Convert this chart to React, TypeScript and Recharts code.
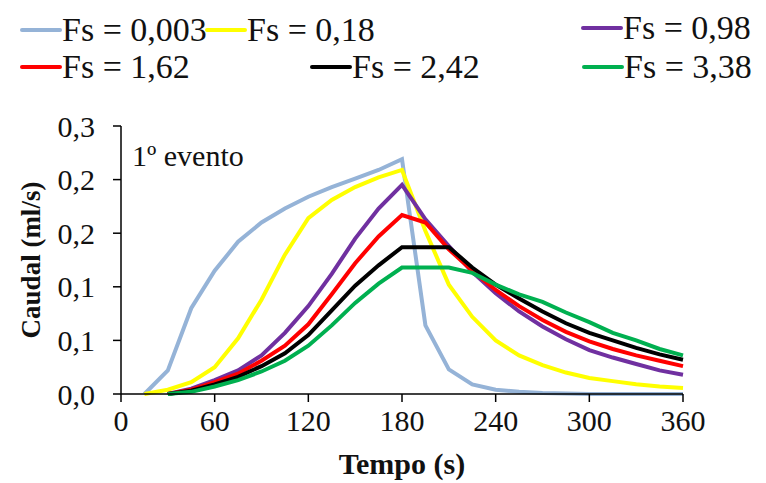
import { LineChart, Line, XAxis, YAxis } from 'recharts';

const tempo = [0, 15, 30, 45, 60, 75, 90, 105, 120, 135, 150, 165, 180, 195, 210, 225, 240, 255, 270, 285, 300, 315, 330, 345, 360];

const fs0003 = [null, 0, 0.022, 0.080, 0.115, 0.142, 0.160, 0.173, 0.184, 0.193, 0.201, 0.209, 0.219, 0.064, 0.023, 0.009, 0.004, 0.002, 0.001, 0.0005, 0, 0, 0, 0, 0];
const fs018 = [null, 0, 0.004, 0.011, 0.025, 0.052, 0.088, 0.130, 0.164, 0.181, 0.193, 0.202, 0.209, 0.152, 0.102, 0.072, 0.050, 0.036, 0.027, 0.020, 0.015, 0.012, 0.009, 0.007, 0.0055];
const fs098 = [null, null, 0, 0.005, 0.013, 0.022, 0.036, 0.057, 0.082, 0.112, 0.145, 0.173, 0.195, 0.163, 0.138, 0.114, 0.094, 0.077, 0.063, 0.051, 0.041, 0.034, 0.028, 0.022, 0.018];
const fs162 = [null, null, 0, 0.004, 0.011, 0.019, 0.031, 0.045, 0.065, 0.093, 0.122, 0.147, 0.167, 0.160, 0.135, 0.115, 0.097, 0.082, 0.069, 0.058, 0.049, 0.042, 0.036, 0.031, 0.026];
const fs242 = [null, null, 0, 0.003, 0.009, 0.016, 0.026, 0.038, 0.055, 0.078, 0.101, 0.120, 0.137, 0.137, 0.137, 0.118, 0.102, 0.089, 0.077, 0.066, 0.057, 0.050, 0.043, 0.037, 0.032];
const fs338 = [null, null, 0, 0.002, 0.007, 0.013, 0.021, 0.031, 0.045, 0.064, 0.085, 0.103, 0.118, 0.118, 0.118, 0.113, 0.102, 0.093, 0.086, 0.076, 0.067, 0.057, 0.050, 0.042, 0.036];

const xTicks = [0, 60, 120, 180, 240, 300, 360];
const yTicks = [0, 0.05, 0.1, 0.15, 0.2, 0.25];

const series = [
  { key: 'fs0003', name: 'Fs = 0,003', color: '#95B3D7', values: fs0003 },
  { key: 'fs018', name: 'Fs = 0,18', color: '#FFFF00', values: fs018 },
  { key: 'fs098', name: 'Fs = 0,98', color: '#7030A0', values: fs098 },
  { key: 'fs162', name: 'Fs = 1,62', color: '#FF0000', values: fs162 },
  { key: 'fs242', name: 'Fs = 2,42', color: '#000000', values: fs242 },
  { key: 'fs338', name: 'Fs = 3,38', color: '#00B050', values: fs338 },
];

// legend placement (left of the line sample, vertical centre), same order as series
const legendPos = [
  { x: 20, y: 30 },
  { x: 205, y: 30 },
  { x: 581, y: 28 },
  { x: 20, y: 67 },
  { x: 310, y: 67 },
  { x: 582, y: 67 },
];

const FONT = 'Liberation Serif';

const data = tempo.map((t, i) => {
  const row: any = { t };
  series.forEach((s) => {
    row[s.key] = s.values[i];
  });
  return row;
});

const fmtY = (v: number) => (Math.round(v * 10) / 10).toFixed(1).replace('.', ',');

export default function App() {
  return (
    <div style={{ position: 'absolute', left: 0, top: 0, width: 766, height: 483, background: '#fff', fontFamily: FONT }}>
      {series.map((s, i) => (
        <div
          key={s.key}
          style={{ position: 'absolute', left: legendPos[i].x, top: legendPos[i].y - 20, height: 40, display: 'flex', alignItems: 'center' }}
        >
          <span style={{ display: 'inline-block', width: 42, height: 4, background: s.color, borderRadius: 2 }} />
          <span style={{ fontFamily: FONT, fontSize: 34, color: '#111', whiteSpace: 'nowrap' }}>{s.name}</span>
        </div>
      ))}
      <div style={{ position: 'absolute', left: 132, top: 139, fontFamily: FONT, fontSize: 30, color: '#111', whiteSpace: 'nowrap' }}>1º evento</div>
      <LineChart width={766} height={483} data={data} margin={{ top: 126, right: 83, left: 0, bottom: 0 }}>
        <XAxis
          dataKey="t"
          type="number"
          domain={[0, 360]}
          ticks={xTicks}
          tickSize={8}
          tickMargin={8}
          height={89}
          axisLine={{ stroke: '#000', strokeWidth: 1.5 }}
          tickLine={{ stroke: '#000', strokeWidth: 1.5 }}
          tick={{ fontSize: 30, fill: '#111', fontFamily: FONT }}
          label={{ value: 'Tempo (s)', position: 'insideBottom', offset: 9, fontSize: 30, fontWeight: 'bold', fill: '#111', fontFamily: FONT }}
        />
        <YAxis
          type="number"
          domain={[0, 0.25]}
          ticks={yTicks}
          tickFormatter={fmtY}
          width={121}
          tickSize={8}
          tickMargin={18}
          axisLine={{ stroke: '#000', strokeWidth: 1.5 }}
          tickLine={{ stroke: '#000', strokeWidth: 1.5 }}
          tick={{ fontSize: 30, fill: '#111', fontFamily: FONT }}
          label={{ value: 'Caudal (ml/s)', angle: -90, position: 'insideLeft', offset: 30, fontSize: 27, fontWeight: 'bold', fill: '#111', fontFamily: FONT, style: { textAnchor: 'middle' } }}
        />
        {series.map((s) => (
          <Line
            key={s.key}
            dataKey={s.key}
            name={s.name}
            type="linear"
            stroke={s.color}
            strokeWidth={4}
            dot={false}
            isAnimationActive={false}
          />
        ))}
      </LineChart>
    </div>
  );
}
